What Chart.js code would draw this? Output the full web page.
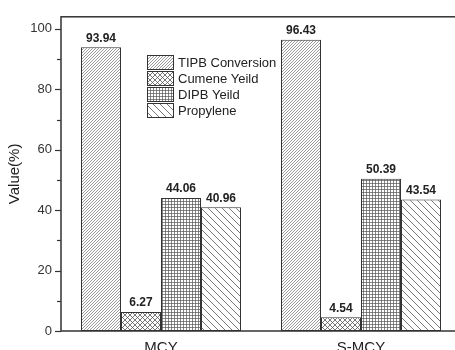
<!DOCTYPE html>
<html>
<head>
<meta charset="utf-8">
<script src="https://cdn.jsdelivr.net/npm/chart.js@4.4.1/dist/chart.umd.min.js"></script>
<style>
  html, body { margin: 0; padding: 0; background: #fff; overflow: hidden; }
  #wrap { width: 455px; height: 350px; overflow: hidden; position: relative; }
  canvas { position: absolute; left: 0; top: 0; }
</style>
</head>
<body>
<div id="wrap"><canvas id="c" width="470" height="365"></canvas></div>
<script>
// ── DATA ──
const categories   = ['MCY', 'S-MCY'];
const seriesNames  = ['TIPB Conversion', 'Cumene Yeild', 'DIPB Yeild', 'Propylene'];
const tipbConv     = [93.94, 96.43];
const cumeneYield  = [6.27, 4.54];
const dipbYield    = [44.06, 50.39];
const propylene    = [40.96, 43.54];
const yTicks       = [0, 20, 40, 60, 80, 100];

const FONT = "'Liberation Sans', Arial, sans-serif";
const INK = '#333333';

// ── HATCH PATTERNS ──
function makePattern(size, draw) {
  const cv = document.createElement('canvas');
  cv.width = size; cv.height = size;
  const g = cv.getContext('2d');
  g.fillStyle = '#ffffff';
  g.fillRect(0, 0, size, size);
  g.strokeStyle = '#555555';
  g.lineWidth = 0.8;
  draw(g, size);
  return g.createPattern(cv, 'repeat');
}

const fwdDense = makePattern(3, (g, s) => {
  g.lineWidth = 0.6;
  g.beginPath();
  g.moveTo(0, s); g.lineTo(s, 0);
  g.moveTo(-1, 1); g.lineTo(1, -1);
  g.moveTo(s - 1, s + 1); g.lineTo(s + 1, s - 1);
  g.stroke();
});

const crossHatch = makePattern(5, (g, s) => {
  g.beginPath();
  g.moveTo(0, 0); g.lineTo(s, s);
  g.moveTo(0, s); g.lineTo(s, 0);
  g.stroke();
});

const gridHatch = makePattern(3, (g, s) => {
  g.lineWidth = 0.7;
  g.beginPath();
  g.moveTo(0, 0.5); g.lineTo(s, 0.5);
  g.moveTo(0.5, 0); g.lineTo(0.5, s);
  g.stroke();
});

const backSparse = makePattern(7, (g, s) => {
  g.beginPath();
  g.moveTo(0, 0); g.lineTo(s, s);
  g.moveTo(-1, s - 1); g.lineTo(1, s + 1);
  g.moveTo(s - 1, -1); g.lineTo(s + 1, 1);
  g.stroke();
});

const fills = [fwdDense, crossHatch, gridHatch, backSparse];
const values = [tipbConv, cumeneYield, dipbYield, propylene];

// ── FRAME, MINOR TICKS, VALUE LABELS, LEGEND ──
const decorPlugin = {
  id: 'decor',
  afterDraw(chart) {
    const { ctx, chartArea: { left, right, top, bottom }, scales: { y } } = chart;
    ctx.save();

    // frame
    ctx.strokeStyle = INK;
    ctx.lineWidth = 1.5;
    ctx.strokeRect(left, top, right - left, bottom - top);

    // y ticks: long at labelled values, short in between
    ctx.lineWidth = 1.2;
    for (let v = 0; v <= 100; v += 10) {
      const py = Math.round(y.getPixelForValue(v)) + 0.5;
      const len = v % 20 === 0 ? 6 : 4;
      ctx.beginPath();
      ctx.moveTo(left - len, py);
      ctx.lineTo(left, py);
      ctx.stroke();
    }

    // value labels over bars
    ctx.fillStyle = '#222222';
    ctx.font = `bold 12px ${FONT}`;
    ctx.textAlign = 'center';
    ctx.textBaseline = 'bottom';
    chart.data.datasets.forEach((ds, di) => {
      chart.getDatasetMeta(di).data.forEach((bar, i) => {
        ctx.fillText(ds.data[i].toFixed(2), bar.x, bar.y - 3);
      });
    });

    // legend inside plot
    const lx = 147, ly = 55, sw = 26, sh = 14, pitch = 16;
    ctx.font = `13px ${FONT}`;
    ctx.textAlign = 'left';
    ctx.textBaseline = 'middle';
    chart.data.datasets.forEach((ds, i) => {
      const yy = ly + i * pitch;
      ctx.fillStyle = ds.backgroundColor;
      ctx.fillRect(lx, yy, sw, sh);
      ctx.strokeStyle = INK;
      ctx.lineWidth = 1;
      ctx.strokeRect(lx + 0.5, yy + 0.5, sw, sh);
      ctx.fillStyle = '#222222';
      ctx.fillText(ds.label, lx + sw + 5, yy + sh / 2 + 1);
    });

    ctx.restore();
  }
};

new Chart(document.getElementById('c'), {
  type: 'bar',
  data: {
    labels: categories,
    datasets: seriesNames.map((name, i) => ({
      label: name,
      data: values[i],
      backgroundColor: fills[i],
      borderColor: INK,
      borderWidth: 1,
      borderSkipped: false,
      categoryPercentage: 0.8,
      barPercentage: 1.0,
    }))
  },
  options: {
    responsive: false,
    animation: false,
    layout: { padding: { top: 15, right: 9, left: 0, bottom: 0 } },
    plugins: { legend: { display: false }, tooltip: { enabled: false } },
    scales: {
      x: {
        offset: true,
        grid: { display: false, drawTicks: false },
        border: { display: false },
        ticks: { color: '#222', font: { family: FONT, size: 15 }, padding: 8 },
        afterFit: s => { s.height = 34; }
      },
      y: {
        min: 0,
        max: 104,
        afterBuildTicks: s => { s.ticks = yTicks.map(v => ({ value: v })); },
        grid: { display: false, drawTicks: false },
        border: { display: false },
        ticks: { color: '#333', font: { family: FONT, size: 13 }, padding: 9 },
        title: {
          display: true,
          text: 'Value(%)',
          color: '#222',
          font: { family: FONT, size: 15 },
          padding: { top: 6, bottom: 0 }
        },
        afterFit: s => { s.width = 61; }
      }
    }
  },
  plugins: [decorPlugin]
});
</script>
</body>
</html>
